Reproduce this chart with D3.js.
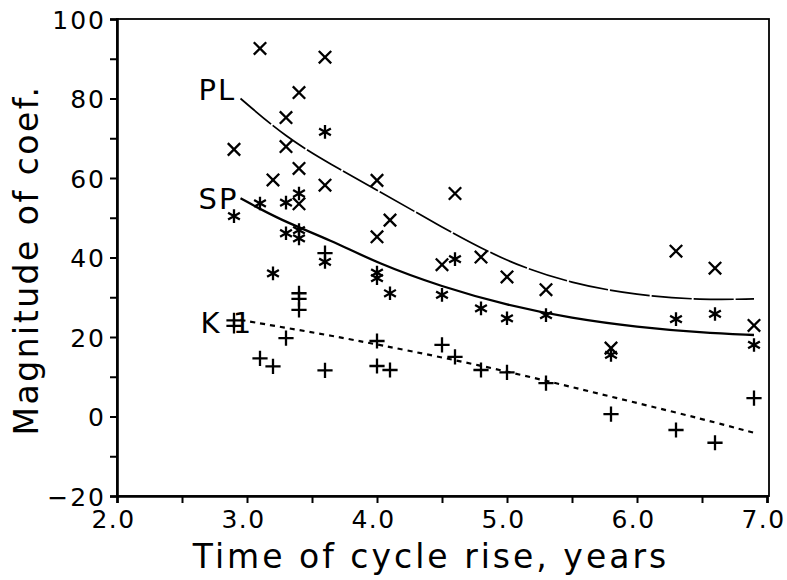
<!DOCTYPE html>
<html>
<head>
<meta charset="utf-8">
<script src="https://cdn.jsdelivr.net/npm/d3@7"></script>
<style>
  body { margin: 0; background: #fff; }
  text { font-family: "DejaVu Sans", sans-serif; fill: #000; }
</style>
</head>
<body>
<div id="chart"></div>
<script>
// axis ticks
var xTicks = [2.0, 2.5, 3.0, 3.5, 4.0, 4.5, 5.0, 5.5, 6.0, 6.5, 7.0];
var xTickLabels = ["2.0", "3.0", "4.0", "5.0", "6.0", "7.0"];
var yTicks = [-20, -10, 0, 10, 20, 30, 40, 50, 60, 70, 80, 90, 100];
var yTickLabels = ["\u221220", "0", "20", "40", "60", "80", "100"];

// PL coefficients (x marks)
var plPoints = [
  [2.9, 67.2], [3.1, 92.6], [3.2, 59.5], [3.3, 75.2], [3.3, 67.9],
  [3.4, 81.5], [3.4, 62.4], [3.4, 53.5], [3.6, 90.4], [3.6, 58.2],
  [4.0, 59.4], [4.0, 45.2], [4.1, 49.4], [4.5, 38.2], [4.6, 56.1],
  [4.8, 40.1], [5.0, 35.1], [5.3, 31.9], [5.8, 17.2], [6.3, 41.6],
  [6.6, 37.3], [6.9, 22.9]
];
// SP coefficients (asterisks)
var spPoints = [
  [2.9, 50.4], [3.1, 53.6], [3.2, 36.0], [3.3, 53.8], [3.3, 46.1],
  [3.4, 56.1], [3.4, 46.9], [3.4, 44.8], [3.6, 71.6], [3.6, 38.9],
  [4.0, 36.2], [4.0, 34.8], [4.1, 31.0], [4.5, 30.6], [4.6, 39.6],
  [4.8, 27.2], [5.0, 24.7], [5.3, 25.5], [5.8, 15.5], [6.3, 24.5],
  [6.6, 25.8], [6.9, 18.0]
];
// K1 coefficients (plus marks)
var k1Points = [
  [2.9, 24.2], [2.9, 22.8], [3.1, 14.6], [3.2, 12.6], [3.3, 19.7],
  [3.4, 31.0], [3.4, 29.6], [3.4, 26.8], [3.6, 41.1], [3.6, 11.6],
  [4.0, 19.0], [4.0, 12.7], [4.1, 11.7], [4.5, 18.0], [4.6, 15.0],
  [4.8, 11.7], [5.0, 11.1], [5.3, 8.4], [5.8, 0.6], [6.3, -3.4],
  [6.6, -6.6], [6.9, 4.6]
];

// fitted curves
var plCurve = [[2.95, 80.0], [3.3, 70.2], [3.65, 63.3], [4.0, 57.0], [4.5, 47.6],
  [5.0, 38.8], [5.5, 33.4], [6.0, 30.5], [6.5, 29.3], [6.9, 29.6]];
var spCurve = [[2.95, 54.9], [3.25, 49.5], [3.65, 44.3], [4.0, 38.6], [4.5, 32.6],
  [5.0, 28.0], [5.5, 24.7], [6.0, 22.5], [6.5, 21.1], [6.9, 20.5]];
var k1Curve = [[2.95, 24.3], [3.3, 22.3], [3.64, 20.4], [4.02, 18.0], [4.5, 14.9],
  [5.02, 11.2], [5.5, 7.4], [6.0, 3.4], [6.5, -0.6], [6.9, -4.1]];

var curveNames = ["PL", "SP", "K 1"];

// stroke-drawn marker shapes for d3.symbol, size = half width
var markTimes = { draw: function(ctx, r) {
  ctx.moveTo(-r, -r); ctx.lineTo(r, r);
  ctx.moveTo(-r, r); ctx.lineTo(r, -r);
}};
var markPlus = { draw: function(ctx, r) {
  ctx.moveTo(-r, 0); ctx.lineTo(r, 0);
  ctx.moveTo(0, -r); ctx.lineTo(0, r);
}};
var markStar = { draw: function(ctx, r) {
  var u = r * 0.866, t = r * 0.5;
  ctx.moveTo(0, -r); ctx.lineTo(0, r);
  ctx.moveTo(-u, -t); ctx.lineTo(u, t);
  ctx.moveTo(-u, t); ctx.lineTo(u, -t);
}};

var Chart = {
  width: 787,
  height: 580,

  createScales: function() {
    this.xScale = d3.scaleLinear()
      .domain([2, 7])
      .range([117, 767]);
    this.yScale = d3.scaleLinear()
      .domain([-20, 100])
      .range([496, 19]);
  },

  drawPlot: function() {
    this.svg = d3.select("#chart")
      .append("svg")
      .attr("width", this.width)
      .attr("height", this.height);
  },

  addAxes: function() {
    var x = this.xScale, y = this.yScale, svg = this.svg;

    // frame
    svg.append("rect")
      .attr("x", x(2)).attr("y", y(100))
      .attr("width", x(7) - x(2) + 2).attr("height", y(-20) - y(100))
      .attr("fill", "none").attr("stroke", "#000").attr("stroke-width", 1.8);

    var xAxis = d3.axisBottom(x)
      .tickValues(xTicks)
      .tickSize(7)
      .tickFormat(function(d) {
        var s = d.toFixed(1);
        return xTickLabels.indexOf(s) >= 0 ? s : "";
      });
    var gx = svg.append("g")
      .attr("class", "xaxis")
      .attr("transform", "translate(0," + y(-20) + ")")
      .call(xAxis);
    gx.select(".domain").attr("stroke-width", 2.6);
    gx.selectAll(".tick line").attr("stroke-width", 2);
    gx.selectAll(".tick text")
      .attr("x", -4)
      .attr("y", 14).attr("dy", "0.71em")
      .style("font-size", "25px").style("letter-spacing", "1.5px")
      .style("font-family", "DejaVu Sans");

    var yAxis = d3.axisLeft(y)
      .tickValues(yTicks)
      .tickSize(7)
      .tickFormat(function(d) {
        var s = d < 0 ? "\u2212" + Math.abs(d) : String(d);
        return yTickLabels.indexOf(s) >= 0 ? s : "";
      });
    var gy = svg.append("g")
      .attr("class", "yaxis")
      .attr("transform", "translate(" + x(2) + ",0)")
      .call(yAxis);
    gy.select(".domain").attr("stroke-width", 2.6);
    gy.selectAll(".tick line").attr("stroke-width", 2);
    gy.selectAll(".tick text")
      .attr("x", -11).attr("dy", "0.36em")
      .style("font-size", "25px").style("letter-spacing", "2px")
      .style("font-family", "DejaVu Sans");
  },

  drawData: function() {
    var x = this.xScale, y = this.yScale, svg = this.svg;

    var line = d3.line()
      .x(function(d) { return x(d[0]); })
      .y(function(d) { return y(d[1]); })
      .curve(d3.curveBasis);

    var curves = [
      { pts: plCurve, w: 1.7, dash: "40,2" },
      { pts: spCurve, w: 2.3, dash: null },
      { pts: k1Curve, w: 2.2, dash: "5,5" }
    ];
    curves.forEach(function(c) {
      svg.append("path")
        .datum(c.pts)
        .attr("fill", "none")
        .attr("stroke", "#000")
        .attr("stroke-width", c.w)
        .attr("stroke-dasharray", c.dash)
        .attr("d", line);
    });

    // curve labels, offset from each curve's first point
    var labelOffsets = [[-42, 1], [-42, 11], [-40, 13]];
    [plCurve, spCurve, k1Curve].forEach(function(c, i) {
      svg.append("text")
        .attr("x", x(c[0][0]) + labelOffsets[i][0])
        .attr("y", y(c[0][1]) + labelOffsets[i][1])
        .style("font-size", "29px")
        .style("letter-spacing", "2px")
        .text(curveNames[i]);
    });

    var sets = [
      { pts: plPoints, type: markTimes, r: 6.2 },
      { pts: spPoints, type: markStar, r: 6.8 },
      { pts: k1Points, type: markPlus, r: 7.6 }
    ];
    sets.forEach(function(s) {
      svg.append("g")
        .selectAll("path")
        .data(s.pts)
        .join("path")
        .attr("transform", function(d) { return "translate(" + x(d[0]) + "," + y(d[1]) + ")"; })
        .attr("d", d3.symbol().type(s.type).size(s.r))
        .attr("fill", "none")
        .attr("stroke", "#000")
        .attr("stroke-width", 2.3);
    });
  },

  addLabels: function() {
    this.svg.append("text")
      .attr("x", 431)
      .attr("y", 568)
      .attr("text-anchor", "middle")
      .style("font-size", "33px")
      .style("letter-spacing", "3px")
      .text("Time of cycle rise, years");

    this.svg.append("text")
      .attr("text-anchor", "middle")
      .attr("transform", "translate(38,260) rotate(-90)")
      .style("font-size", "33px")
      .style("letter-spacing", "2.5px")
      .text("Magnitude of coef.");
  },

  draw: function() {
    this.createScales();
    this.drawPlot();
    this.addAxes();
    this.drawData();
    this.addLabels();
  }
};

Chart.draw();
</script>
</body>
</html>
